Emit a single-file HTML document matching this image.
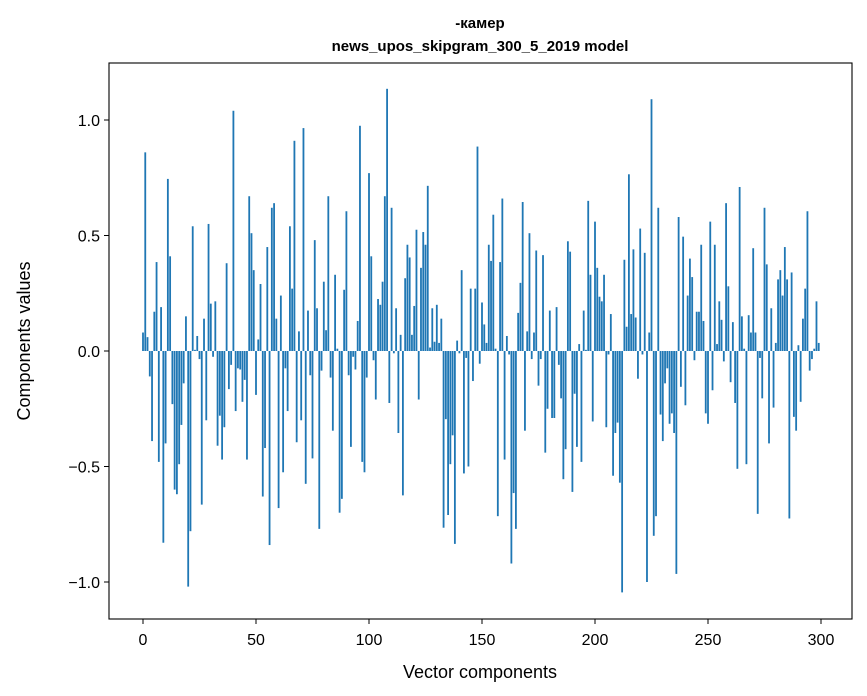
<!DOCTYPE html>
<html><head><meta charset="utf-8"><style>
body{margin:0;background:#fff;}
svg{display:block;font-family:"Liberation Sans","DejaVu Sans",sans-serif;}
</style></head><body>
<svg id="chart" width="867" height="696">
<text x="480" y="28" text-anchor="middle" font-size="15" font-weight="bold">-камер</text>
<text x="480" y="51" text-anchor="middle" font-size="15" font-weight="bold">news_upos_skipgram_300_5_2019 model</text>
<text x="480" y="678" text-anchor="middle" font-size="18">Vector components</text>
<text transform="translate(30,341) rotate(-90)" text-anchor="middle" font-size="18">Components values</text>
<g id="bars"></g>
<g id="axes"></g>
</svg>
<script>
const categories = Array.from({length:300},(_, i)=>i);
const values = [0.08,0.86,0.06,-0.11,-0.39,0.17,0.385,-0.48,0.19,-0.83,-0.40,0.745,0.41,-0.23,-0.60,-0.62,-0.49,-0.32,-0.14,0.15,
-1.02,-0.78,0.54,0.005,0.065,-0.035,-0.665,0.14,-0.30,0.55,0.205,-0.025,0.215,-0.41,-0.28,-0.47,-0.33,0.38,-0.165,-0.06,
1.04,-0.26,-0.075,-0.08,-0.22,-0.125,-0.47,0.67,0.51,0.35,-0.19,0.05,0.29,-0.63,-0.42,0.45,-0.84,0.62,0.64,0.14,
-0.68,0.24,-0.525,-0.075,-0.26,0.54,0.27,0.91,-0.395,0.085,-0.30,0.965,-0.575,0.175,-0.105,-0.465,0.48,0.185,-0.77,-0.085,
0.30,0.09,0.67,-0.115,-0.345,0.33,0.01,-0.70,-0.64,0.265,0.605,-0.105,-0.415,-0.025,-0.08,0.13,0.975,-0.48,-0.525,-0.115,
0.77,0.41,-0.04,-0.21,0.225,0.20,0.30,0.67,1.135,-0.225,0.62,-0.01,0.185,-0.355,0.07,-0.625,0.315,0.46,0.405,0.07,
0.195,0.525,-0.21,0.36,0.515,0.46,0.715,0.015,0.185,0.04,0.2,0.035,0.14,-0.765,-0.295,-0.71,-0.49,-0.365,-0.835,0.045,
-0.01,0.35,-0.53,-0.03,-0.50,0.27,-0.13,0.27,0.885,-0.055,0.21,0.115,0.035,0.46,0.39,0.59,0.01,-0.715,0.385,0.66,
-0.47,0.065,-0.015,-0.92,-0.615,-0.77,0.165,0.295,0.645,-0.345,0.085,0.51,-0.035,0.08,0.435,-0.15,-0.035,0.415,-0.44,-0.25,
0.175,-0.29,-0.29,0.19,-0.06,-0.205,-0.555,-0.425,0.475,0.43,-0.61,-0.185,-0.415,0.03,-0.48,0.175,0.005,0.65,0.33,-0.305,
0.56,0.36,0.235,0.215,0.33,-0.33,-0.015,0.16,-0.54,-0.355,-0.31,-0.57,-1.045,0.395,0.105,0.765,0.16,0.44,0.145,-0.12,
0.53,-0.015,0.425,-1.0,0.08,1.09,-0.80,-0.715,0.62,-0.275,-0.39,-0.14,-0.075,-0.315,-0.27,-0.355,-0.965,0.58,-0.155,0.495,
-0.235,0.24,0.40,0.32,-0.04,0.17,0.17,0.46,0.13,-0.27,-0.315,0.56,-0.17,0.46,0.03,0.215,0.135,-0.045,0.64,0.28,
-0.135,0.125,-0.225,-0.51,0.71,0.15,0.01,-0.49,0.155,0.08,0.445,0.08,-0.705,-0.03,-0.205,0.62,0.375,-0.40,0.185,-0.245,
0.035,0.31,0.35,0.24,0.45,0.31,-0.725,0.34,-0.285,-0.345,0.025,-0.22,0.14,0.27,0.605,-0.085,-0.035,0.01,0.215,0.035];
const xTicks = [0,50,100,150,200,250,300];
const yTicks = [-1.0,-0.5,0.0,0.5,1.0];
const yTickLabels = ["\u22121.0","\u22120.5","0.0","0.5","1.0"];

const NS="http://www.w3.org/2000/svg";
const L=109,R=852,T=63,B=619;
const xs = v => 143 + v*2.26;
const ys = v => 351 - v*231;
const bw = 2.26*0.8;
const bars=document.getElementById('bars');
categories.forEach((c,i)=>{
  const v=values[i];
  const r=document.createElementNS(NS,'rect');
  r.setAttribute('x',xs(c)-bw/2);
  r.setAttribute('y',Math.min(ys(v),ys(0)));
  r.setAttribute('width',bw);
  r.setAttribute('height',Math.abs(ys(v)-ys(0)));
  r.setAttribute('fill','#1f77b4');
  
  
  bars.appendChild(r);
});
const ax=document.getElementById('axes');
const frame=document.createElementNS(NS,'rect');
frame.setAttribute('x',L);frame.setAttribute('y',T);frame.setAttribute('width',R-L);frame.setAttribute('height',B-T);
frame.setAttribute('fill','none');frame.setAttribute('stroke','#000');frame.setAttribute('stroke-width','1.1');


ax.appendChild(frame);
xTicks.forEach(t=>{
  const l=document.createElementNS(NS,'line');
  l.setAttribute('x1',xs(t));l.setAttribute('x2',xs(t));l.setAttribute('y1',B);l.setAttribute('y2',B+5);
  l.setAttribute('stroke','#000');
  
  
  ax.appendChild(l);
  const tx=document.createElementNS(NS,'text');
  tx.setAttribute('x',xs(t));tx.setAttribute('y',B+26);tx.setAttribute('text-anchor','middle');tx.setAttribute('font-size','16');
  tx.textContent=t;
  
  
  ax.appendChild(tx);
});
yTicks.forEach((t,i)=>{
  const l=document.createElementNS(NS,'line');
  l.setAttribute('x1',L-5);l.setAttribute('x2',L);l.setAttribute('y1',ys(t));l.setAttribute('y2',ys(t));
  l.setAttribute('stroke','#000');
  
  
  ax.appendChild(l);
  const tx=document.createElementNS(NS,'text');
  tx.setAttribute('x',L-9);tx.setAttribute('y',ys(t)+6);tx.setAttribute('text-anchor','end');tx.setAttribute('font-size','16');
  tx.textContent=yTickLabels[i];
  
  
  ax.appendChild(tx);
});
</script>
</body></html>
